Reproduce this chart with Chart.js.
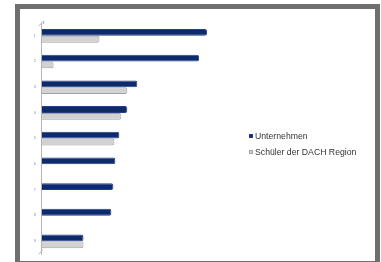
<!DOCTYPE html>
<html>
<head>
<meta charset="utf-8">
<script src="https://cdn.jsdelivr.net/npm/chart.js@4"></script>
<style>
    html, body { margin: 0; padding: 0; background: #fff; overflow: hidden; }
    #wrap { position: relative; width: 381px; height: 262px; overflow: hidden; }
    #frame {
        position: absolute; left: 15px; top: 4px; width: 365px; height: 262px;
        box-sizing: border-box; border: 5px solid #6f6f6f; pointer-events: none;
    }
    canvas { position: absolute; left: 0; top: 0; }
    #legend {
        position: absolute; left: 249px; top: 131px;
        font: 8.7px 'Liberation Sans', Arial, sans-serif; color: #333;
    }
    .item { height: 15.5px; line-height: 11px; white-space: nowrap; }
    .box { display: inline-block; width: 4px; height: 4px; margin-right: 2px; vertical-align: 1px; box-sizing: border-box; border: 1px solid; }
</style>
</head>
<body>
<div id="wrap">
    <canvas id="chart" width="381" height="262"></canvas>
    <div id="legend"></div>
    <div id="frame"></div>
</div>
<script>
    const CATEGORIES = ['1', '2', '3', '4', '5', '6', '7', '8', '9'];
    const UNTERNEHMEN = [83, 79, 48, 43, 39, 37, 36, 35, 21];
    const SCHUELER = [29, 6, 43, 40, 36.5, null, null, null, 21];
    const SERIES_NAMES = ['Unternehmen', 'Schüler der DACH Region'];

    const NAVY = '#0d2a6c';
    const GREY = '#d2d2d2';

    // little 3D wall edges at the ends of the category axis
    const wallEdges = {
        id: 'wallEdges',
        afterDraw(chart) {
            const { ctx, chartArea } = chart;
            const l = chartArea.left - 1, t = chartArea.top, b = chartArea.bottom;
            ctx.save();
            ctx.strokeStyle = '#b4b4b4';
            ctx.lineWidth = 1;
            ctx.beginPath();
            ctx.moveTo(l - 2, t + 3);
            ctx.lineTo(l + 3, t - 2);
            ctx.lineTo(l + 3, t + 1);
            ctx.moveTo(l - 2, b);
            ctx.lineTo(l + 2, b - 4);
            ctx.stroke();
            ctx.restore();
        }
    };

    const chart = new Chart(document.getElementById('chart'), {
        type: 'bar',
        data: {
            labels: CATEGORIES,
            datasets: [
                {
                    label: SERIES_NAMES[0],
                    data: UNTERNEHMEN,
                    backgroundColor: NAVY,
                    borderColor: '#233f85',
                    borderWidth: 1,
                    borderRadius: 2,
                    borderSkipped: 'start',
                    categoryPercentage: 0.53,
                    barPercentage: 1
                },
                {
                    label: SERIES_NAMES[1],
                    data: SCHUELER,
                    backgroundColor: GREY,
                    borderColor: '#a3a3a3',
                    borderWidth: 1,
                    borderRadius: 2,
                    borderSkipped: 'start',
                    categoryPercentage: 0.53,
                    barPercentage: 1
                }
            ]
        },
        options: {
            indexAxis: 'y',
            responsive: false,
            animation: false,
            layout: { padding: { left: 28, right: 140, top: 23, bottom: 5 } },
            plugins: {
                tooltip: { enabled: false },
                legend: { display: false }
            },
            scales: {
                x: { display: false, min: 0, max: 100 },
                y: {
                    grid: { display: false, drawTicks: false },
                    border: { display: true, color: '#b4b4b4', width: 1 },
                    ticks: {
                        color: '#3b73c8',
                        padding: 6,
                        font: { family: "'Liberation Sans', Arial, sans-serif", size: 3 }
                    }
                }
            }
        },
        plugins: [wallEdges]
    });

    // legend built from the chart's datasets
    const legendEl = document.getElementById('legend');
    chart.data.datasets.forEach(ds => {
        const item = document.createElement('div');
        item.className = 'item';
        const box = document.createElement('span');
        box.className = 'box';
        box.style.background = ds.backgroundColor;
        box.style.borderColor = ds.borderColor;
        item.appendChild(box);
        item.appendChild(document.createTextNode(ds.label));
        legendEl.appendChild(item);
    });
</script>
</body>
</html>
